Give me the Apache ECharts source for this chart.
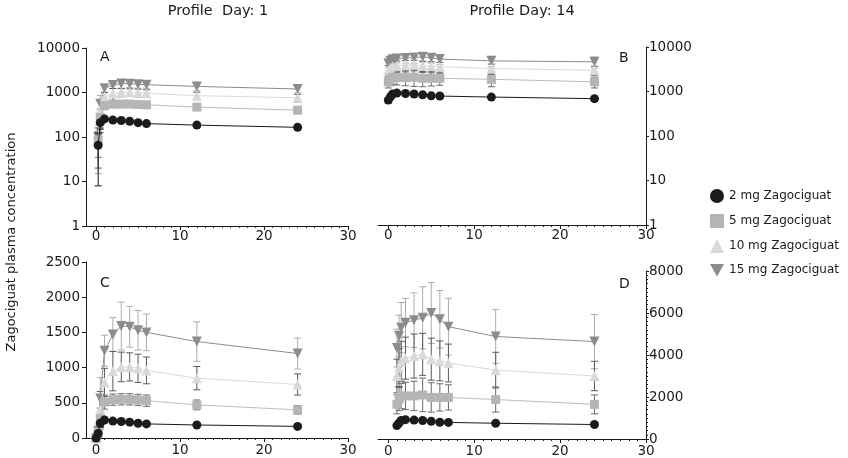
<!DOCTYPE html>
<html><head><meta charset="utf-8">
<script src="https://cdn.jsdelivr.net/npm/echarts@6/dist/echarts.min.js"></script>
<style>html,body{margin:0;padding:0;background:#fff}#c{width:848px;height:458px}</style>
</head><body><div id="c"></div><script>
// ---- data ----
const seriesNames = ['2 mg Zagociguat', '5 mg Zagociguat', '10 mg Zagociguat', '15 mg Zagociguat'];
const panelTitles = ['Profile  Day: 1', 'Profile Day: 14'];
const panelLetters = ['A', 'B', 'C', 'D'];
const yAxisTitle = 'Zagociguat plasma concentration';
const xTickValues = [0, 10, 20, 30];
const xMinorTickValues = [0,1,2,3,4,5,6,7,8,9,10,11,12,13,14,15,16,17,18,19,20,21,22,23,24,25,26,27,28,29,30];

const day1Times = [0, 0.25, 0.5, 1, 2, 3, 4, 5, 6, 12, 24];
const day1_2mg  = [0, 65, 210, 255, 240, 235, 225, 210, 200, 185, 165];
const day1_5mg  = [0, 85, 275, 510, 545, 550, 550, 540, 530, 470, 400];
const day1_10mg = [0, 90, 410, 790, 950, 1010, 1010, 990, 960, 850, 760];
const day1_15mg = [0, 100, 560, 1240, 1470, 1590, 1580, 1530, 1500, 1370, 1200];
const day1_2mgSD  = [0, 57, 60, 30, 25, 20, 20, 20, 20, 20, 20];
const day1_5mgSD  = [0, 50, 150, 100, 80, 80, 80, 80, 80, 70, 60];
const day1_10mgSD = [0, 70, 250, 200, 280, 210, 200, 200, 190, 165, 150];
const day1_15mgSD = [0, 85, 300, 220, 240, 340, 290, 280, 260, 280, 220];

const day14TimesLog = [0, 0.25, 0.5, 1, 2, 3, 4, 5, 6, 12, 24];
const day14TimesLin = [1, 1.25, 1.5, 2, 3, 4, 5, 6, 7, 12.5, 24];
const day14_2mg  = [640, 760, 880, 920, 900, 880, 840, 800, 790, 750, 690];
const day14_5mg  = [1650, 1900, 2050, 2050, 2050, 2100, 1980, 1980, 1980, 1880, 1650];
const day14_10mg = [3000, 3400, 3700, 3850, 3950, 4030, 3800, 3720, 3620, 3280, 3000];
const day14_15mg = [4330, 4900, 5300, 5540, 5660, 5770, 6000, 5700, 5350, 4880, 4640];
const day14_2mgSD  = [90, 80, 80, 80, 80, 80, 80, 70, 70, 70, 80];
const day14_5mgSD  = [450, 550, 600, 650, 700, 800, 700, 650, 600, 600, 450];
const day14_10mgSD = [800, 900, 950, 1000, 1050, 1000, 1000, 950, 900, 850, 700];
const day14_15mgSD = [900, 1000, 1200, 1150, 1300, 1480, 1450, 1370, 1350, 1280, 1290];

// ---- styles ----
const FONT = 'DejaVu Sans';
const TXT = '#1a1a1a';
const styles = [
  {color: '#1b1b1b', line: '#1b1b1b', err: '#1b1b1b', symbol: 'circle', size: 9, rot: 0, icon: 'circle'},
  {color: '#b5b5b5', line: '#bdbdbd', err: '#6a6a6a', symbol: 'rect', size: 9, rot: 0, icon: 'rect'},
  {color: '#d9d9d9', line: '#dadada', err: '#595959', symbol: 'triangle', size: 10, rot: 0, icon: 'triangle'},
  {color: '#8c8c8c', line: '#8c8c8c', err: '#acacac', symbol: 'triangle', size: 10, rot: 180, icon: 'path://M0,0L10,0L5,9Z'}
];

const day1Vals = [day1_2mg, day1_5mg, day1_10mg, day1_15mg];
const day1SDs = [day1_2mgSD, day1_5mgSD, day1_10mgSD, day1_15mgSD];
const day14Vals = [day14_2mg, day14_5mg, day14_10mg, day14_15mg];
const day14SDs = [day14_2mgSD, day14_5mgSD, day14_10mgSD, day14_15mgSD];

const grids = [
  {left: 86, top: 48, width: 262, height: 178},
  {left: 378, top: 47, width: 268, height: 178},
  {left: 86, top: 262, width: 262, height: 176},
  {left: 378, top: 271, width: 268, height: 170}
];

const plain = v => String(Math.round(v));

const xAxes = [];
grids.forEach((g, i) => {
  const bottomPanel = i >= 2;
  xAxes.push({
    type: 'value', gridIndex: i, min: -1.2, max: 30, position: 'bottom',
    axisLine: {show: true, onZero: false, lineStyle: {color: TXT, width: 1}},
    axisTick: {show: true, length: 4, customValues: xTickValues, lineStyle: {color: TXT}},
    axisLabel: {show: true, customValues: xTickValues, formatter: plain, fontFamily: FONT, fontSize: 13.5, color: TXT, margin: bottomPanel ? 5 : 3},
    splitLine: {show: false}
  });
  xAxes.push({
    type: 'value', gridIndex: i, min: -1.2, max: 30, position: 'bottom',
    axisLine: {show: false, onZero: false},
    axisTick: {show: true, length: 2, customValues: xMinorTickValues, lineStyle: {color: TXT}},
    axisLabel: {show: false},
    splitLine: {show: false}
  });
});

const yLabel = {fontFamily: FONT, fontSize: 13.5, color: TXT, margin: 6, formatter: plain};
const yLine = {show: true, onZero: false, lineStyle: {color: TXT, width: 1}};
const yAxes = [
  {type: 'log', logBase: 10, gridIndex: 0, min: 1, max: 10000, position: 'left',
   axisLine: yLine, axisTick: {show: true, length: 4, lineStyle: {color: TXT}}, axisLabel: yLabel, splitLine: {show: false}},
  {type: 'log', logBase: 10, gridIndex: 1, min: 1, max: 10000, position: 'right',
   axisLine: yLine, axisTick: {show: true, length: 3, lineStyle: {color: TXT}}, axisLabel: Object.assign({}, yLabel, {margin: 3}), splitLine: {show: false}},
  {type: 'value', gridIndex: 2, min: 0, max: 2500, interval: 500, position: 'left',
   axisLine: yLine, axisTick: {show: true, length: 4, lineStyle: {color: TXT}}, axisLabel: yLabel, splitLine: {show: false}},
  {type: 'value', gridIndex: 3, min: 0, max: 8000, interval: 2000, position: 'right',
   axisLine: yLine, axisTick: {show: true, length: 3, lineStyle: {color: TXT}},
   minorTick: {show: true, splitNumber: 10, length: 2, lineStyle: {color: TXT}},
   axisLabel: Object.assign({}, yLabel, {margin: 3}), splitLine: {show: false}, minorSplitLine: {show: false}}
];

function errRender(color, isLog) {
  return function (params, api) {
    const x = api.value(0), y = api.value(1), sd = api.value(2);
    if (!(sd > 0)) return null;
    let lo = y - sd; const hi = y + sd;
    let loCap = true;
    if (isLog && lo < 1) { lo = 1; loCap = false; }
    if (!isLog && lo < 0) { lo = 0; loCap = false; }
    const pH = api.coord([x, hi]);
    const pL = api.coord([x, lo]);
    const cw = 3.5;
    const st = {stroke: color, lineWidth: 1};
    const children = [
      {type: 'line', shape: {x1: pH[0], y1: pH[1], x2: pL[0], y2: pL[1]}, style: st},
      {type: 'line', shape: {x1: pH[0] - cw, y1: pH[1], x2: pH[0] + cw, y2: pH[1]}, style: st}
    ];
    if (loCap) children.push({type: 'line', shape: {x1: pL[0] - cw, y1: pL[1], x2: pL[0] + cw, y2: pL[1]}, style: st});
    return {type: 'group', children: children};
  };
}

const series = [];
const panels = [
  {grid: 0, times: day1Times, vals: day1Vals, sds: day1SDs, log: true},
  {grid: 1, times: day14TimesLog, vals: day14Vals, sds: day14SDs, log: true},
  {grid: 2, times: day1Times, vals: day1Vals, sds: day1SDs, log: false},
  {grid: 3, times: day14TimesLin, vals: day14Vals, sds: day14SDs, log: false}
];
const drawOrder = [3, 2, 1, 0];
panels.forEach(p => {
  drawOrder.forEach((k, oi) => {
    const s = styles[k];
    const pts = [], errPts = [];
    p.times.forEach((t, j) => {
      const v = p.vals[k][j];
      if (p.log && v <= 0) return;
      pts.push([t, v]);
      errPts.push([t, v, p.sds[k][j]]);
    });
    series.push({
      type: 'custom', xAxisIndex: p.grid * 2, yAxisIndex: p.grid,
      renderItem: errRender(s.err, p.log), data: errPts, z: 2 + oi, silent: true,
      clip: false
    });
    series.push({
      name: seriesNames[k], type: 'line', xAxisIndex: p.grid * 2, yAxisIndex: p.grid,
      data: pts, symbol: s.symbol, symbolSize: s.size, symbolRotate: s.rot, showAllSymbol: true,
      lineStyle: {color: s.line, width: 1}, itemStyle: {color: s.color, opacity: 1},
      z: 3 + oi, animation: false, silent: true
    });
  });
});

const graphics = [
  {type: 'text', x: 218, y: 4, style: {text: panelTitles[0], font: '14.5px "' + FONT + '"', fill: TXT, textAlign: 'center'}},
  {type: 'text', x: 522, y: 4, style: {text: panelTitles[1], font: '14.5px "' + FONT + '"', fill: TXT, textAlign: 'center'}},
  {type: 'text', left: 100, top: 50, style: {text: panelLetters[0], font: '14px "' + FONT + '"', fill: TXT}},
  {type: 'text', left: 619, top: 51, style: {text: panelLetters[1], font: '14px "' + FONT + '"', fill: TXT}},
  {type: 'text', left: 100, top: 276, style: {text: panelLetters[2], font: '14px "' + FONT + '"', fill: TXT}},
  {type: 'text', left: 619, top: 277, style: {text: panelLetters[3], font: '14px "' + FONT + '"', fill: TXT}},
  {type: 'text', x: 12, y: 242, rotation: Math.PI / 2,
   style: {text: yAxisTitle, font: '13px "' + FONT + '"', fill: TXT, textAlign: 'center', textVerticalAlign: 'middle'}}
];

const chart = echarts.init(document.getElementById('c'), null, {renderer: 'canvas'});
chart.setOption({
  backgroundColor: '#ffffff',
  animation: false,
  grid: grids,
  xAxis: xAxes,
  yAxis: yAxes,
  legend: {
    orient: 'vertical', left: 705, top: 184, itemGap: 11, itemWidth: 14, itemHeight: 14,
    textStyle: {fontFamily: FONT, fontSize: 12, color: TXT},
    data: seriesNames.map((n, k) => ({name: n, icon: styles[k].icon}))
  },
  graphic: graphics,
  series: series
});
</script></body></html>
